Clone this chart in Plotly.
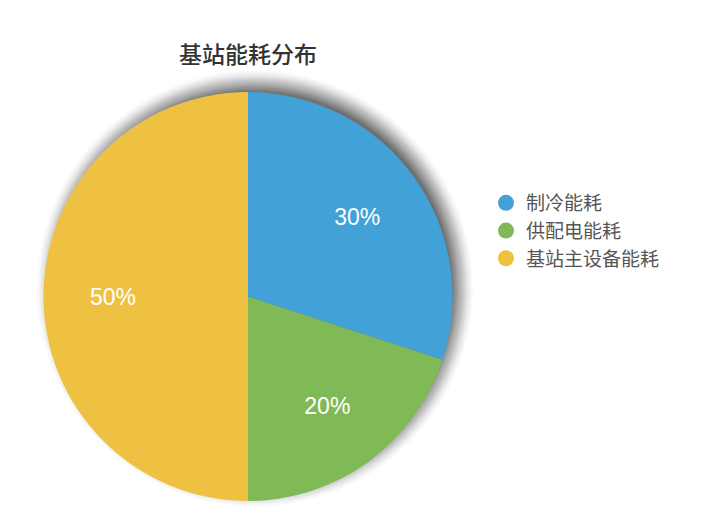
import plotly.graph_objects as go

categories = ['制冷能耗', '供配电能耗', '基站主设备能耗']
values = [30, 20, 50]
colors = ['#42a1d6', '#7fba57', '#efc143']
title_text = '基站能耗分布'

OFF = 8                      # page body margin of the html page
W, H = 720 - OFF, 522 - OFF
cx, cy, r = 248 - OFF, 296.5 - OFF, 204.5   # pie centre / radius in pixels
dom = dict(x=[(cx - r) / W, (cx + r) / W], y=[1 - (cy + r) / H, 1 - (cy - r) / H])

fig = go.Figure()

# coloured disc
fig.add_trace(go.Pie(
    labels=categories, values=values, sort=False, direction='clockwise', rotation=0,
    marker=dict(colors=colors, line=dict(width=0)),
    textinfo='none', showlegend=False, hoverinfo='label+percent', domain=dom,
))

# transparent ring on top carrying the percentage labels further out
fig.add_trace(go.Pie(
    labels=categories, values=values, sort=False, direction='clockwise', rotation=0,
    hole=0.32,
    marker=dict(colors=['rgba(0,0,0,0)'] * 3, line=dict(width=0)),
    texttemplate='%{percent:.0%}',
    textposition='inside',
    insidetextorientation='horizontal',
    textfont=dict(color='white', size=23, family='Liberation Sans, Noto Sans CJK SC'),
    showlegend=False, hoverinfo='skip', domain=dom,
))

# legend entries with round markers
for name, col in zip(categories, colors):
    fig.add_trace(go.Scatter(
        x=[None], y=[None], mode='markers', name=name,
        marker=dict(size=20, color=col, symbol='circle'),
    ))

# soft shadow behind the pie (offset up / right), stacked translucent discs
shapes = []
sx, sy = cx + 7, cy - 8
n = 23
for k in range(n):
    rr = r - 8 + k
    a = 0.055 - 0.045 * k / (n - 1)
    shapes.append(dict(
        type='circle', xref='paper', yref='paper', layer='below',
        x0=(sx - rr) / W, x1=(sx + rr) / W,
        y0=1 - (sy + rr) / H, y1=1 - (sy - rr) / H,
        fillcolor='rgba(0,0,0,%.4f)' % a, line=dict(width=0),
    ))

fig.update_layout(
    width=W, height=H,
    paper_bgcolor='white', plot_bgcolor='white',
    margin=dict(l=0, r=0, t=0, b=0),
    title=dict(text=title_text, x=cx / W, xanchor='center', y=1 - (55 - OFF) / H, yanchor='middle',
               font=dict(size=23, color='#333333', family='Noto Sans CJK SC', weight=500)),
    xaxis=dict(visible=False),
    yaxis=dict(visible=False),
    shapes=shapes,
    legend=dict(x=(486 - OFF) / W, xanchor='left', y=1 - (184 - OFF) / H, yanchor='top',
                font=dict(size=19, color='#555555', family='Noto Sans CJK SC'),
                bgcolor='rgba(0,0,0,0)', tracegroupgap=0),
)

fig.write_html('out.html')
